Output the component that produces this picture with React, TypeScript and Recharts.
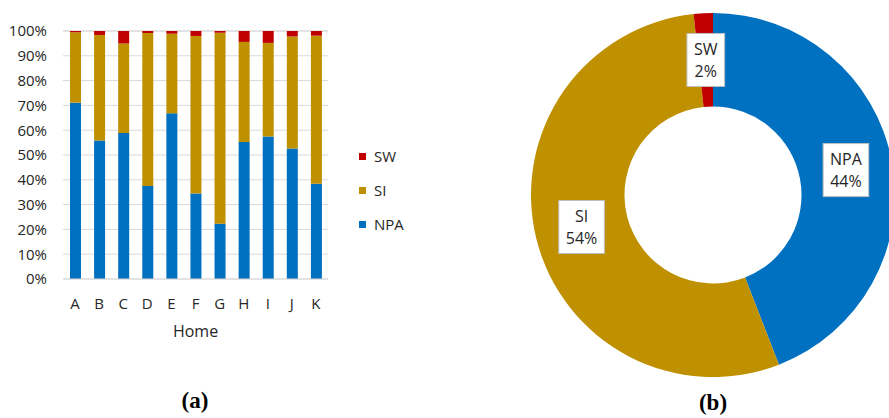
import React from 'react';
import { BarChart, Bar, XAxis, YAxis, CartesianGrid, PieChart, Pie, Cell } from 'recharts';

const homes = ['A', 'B', 'C', 'D', 'E', 'F', 'G', 'H', 'I', 'J', 'K'];
const npaValues = [71.1, 55.8, 58.9, 37.5, 66.8, 34.5, 22.3, 55.2, 57.5, 52.6, 38.4];
const siValues = [28.4, 42.6, 36.1, 61.7, 32.1, 63.5, 77.0, 40.4, 37.7, 45.2, 59.7];
const swValues = [0.5, 1.6, 5.0, 0.8, 1.1, 2.0, 0.7, 4.4, 4.8, 2.2, 1.9];
const yTicks = [0, 10, 20, 30, 40, 50, 60, 70, 80, 90, 100];

const pieNames = ['NPA', 'SI', 'SW'];
const pieValues = [44.1, 54.2, 1.7];

const COLORS: Record<string, string> = { NPA: '#0070C0', SI: '#BF9000', SW: '#C00000' };
const FONT = '"Open Sans", sans-serif';
const TEXT = '#262626';

const barData = homes.map((h, i) => ({ home: h, NPA: npaValues[i], SI: siValues[i], SW: swValues[i] }));
const pieData = pieNames.map((n, i) => ({ name: n, value: pieValues[i] }));

const legendOrder = ['SW', 'SI', 'NPA'];

const LegendBox = () => (
  <div style={{ position: 'absolute', left: 359, top: 139, fontFamily: FONT, fontSize: 15, color: TEXT }}>
    {legendOrder.map((k) => (
      <div key={k} style={{ display: 'flex', alignItems: 'center', height: 34 }}>
        <div style={{ width: 7, height: 7, background: COLORS[k], marginRight: 8 }} />
        <span>{k}</span>
      </div>
    ))}
  </div>
);

const charW: Record<string, number> = { N: 0.738, P: 0.6, A: 0.632, S: 0.55, W: 0.93, I: 0.28, '%': 0.83 };
const textWidth = (s: string, size: number) =>
  s.split('').reduce((acc, c) => acc + (charW[c] ?? 0.572), 0) * size;

const RAD = Math.PI / 180;
const renderLabel = (props: any) => {
  const { cx, cy, midAngle, innerRadius, outerRadius, name, percent } = props;
  const r = (innerRadius + outerRadius) / 2;
  const x = cx + r * Math.cos(-midAngle * RAD);
  const y = cy + r * Math.sin(-midAngle * RAD);
  const pct = `${Math.round(percent * 100)}%`;
  const w = Math.max(textWidth(name, 16), textWidth(pct, 16)) + 14;
  const h = 53;
  return (
    <g>
      <rect x={x - w / 2} y={y - h / 2} width={w} height={h} fill="#ffffff" stroke="#bfbfbf" strokeWidth={1} />
      <text x={x} y={y - 5} textAnchor="middle" fontFamily={FONT} fontSize={16} fill={TEXT}>{name}</text>
      <text x={x} y={y + 17} textAnchor="middle" fontFamily={FONT} fontSize={16} fill={TEXT}>{pct}</text>
    </g>
  );
};

export default function App() {
  return (
    <div style={{ position: 'absolute', left: 0, top: 0, width: 889, height: 418, background: '#fff', overflow: 'hidden' }}>
      <div style={{ position: 'absolute', left: 0, top: 0 }}>
        <BarChart width={340} height={344} data={barData} margin={{ top: 31, right: 12, left: 0, bottom: 0 }}>
          <CartesianGrid vertical={false} stroke="#d9d9d9" />
          <XAxis
            dataKey="home"
            height={65}
            tickLine={false}
            axisLine={{ stroke: '#d9d9d9' }}
            tickSize={0}
            tickMargin={19}
            interval={0}
            tick={{ fontFamily: FONT, fontSize: 15, fill: TEXT }}
            label={{ value: 'Home', position: 'insideTop', offset: 47, style: { fontFamily: FONT, fontSize: 16, fill: TEXT } }}
          />
          <YAxis
            width={63}
            domain={[0, 100]}
            ticks={yTicks}
            tickFormatter={(v: number) => `${v}%`}
            tickLine={false}
            axisLine={false}
            tickSize={0}
            tickMargin={16}
            interval={0}
            tick={{ fontFamily: FONT, fontSize: 15, fill: TEXT }}
          />
          <Bar dataKey="NPA" stackId="a" fill={COLORS.NPA} barSize={11} isAnimationActive={false} />
          <Bar dataKey="SI" stackId="a" fill={COLORS.SI} barSize={11} isAnimationActive={false} />
          <Bar dataKey="SW" stackId="a" fill={COLORS.SW} barSize={11} isAnimationActive={false} />
        </BarChart>
      </div>
      <LegendBox />
      <div style={{ position: 'absolute', left: 430, top: 0 }}>
        <PieChart width={459} height={418}>
          <Pie
            data={pieData}
            dataKey="value"
            nameKey="name"
            cx={278}
            cy={190}
            innerRadius={88.5}
            outerRadius={182}
            startAngle={90}
            endAngle={-270}
            stroke="none"
            labelLine={false}
            label={renderLabel}
            isAnimationActive={false}
          >
            {pieData.map((d) => (
              <Cell key={d.name} fill={COLORS[d.name]} />
            ))}
          </Pie>
        </PieChart>
      </div>
      <div style={{ position: 'absolute', left: 145, width: 100, top: 388, textAlign: 'center', fontFamily: '"Liberation Serif", serif', fontWeight: 'bold', fontSize: 23, color: '#000' }}>(a)</div>
      <div style={{ position: 'absolute', left: 663, width: 100, top: 390, textAlign: 'center', fontFamily: '"Liberation Serif", serif', fontWeight: 'bold', fontSize: 23, color: '#000' }}>(b)</div>
    </div>
  );
}
